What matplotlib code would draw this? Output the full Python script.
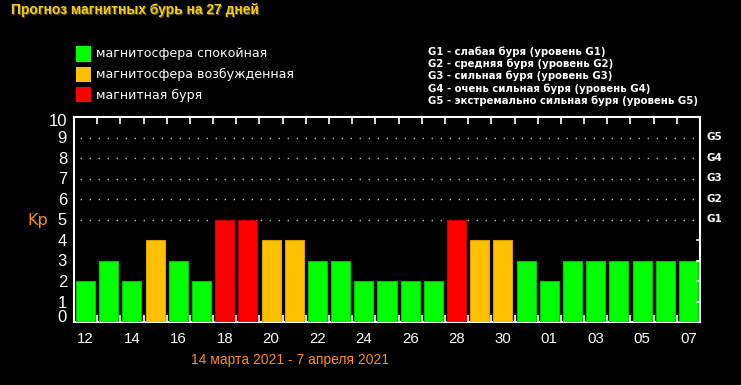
import matplotlib
matplotlib.use("Agg")
import matplotlib.pyplot as plt
from matplotlib.patches import Rectangle
from matplotlib.transforms import ScaledTranslation

# ---- data ----
days = ["12", "13", "14", "15", "16", "17", "18", "19", "20", "21", "22", "23", "24",
        "25", "26", "27", "28", "29", "30", "31", "01", "02", "03", "04", "05", "06", "07"]
kp = [2, 3, 2, 4, 3, 2, 5, 5, 4, 4, 3, 3, 2, 2, 2, 2, 5, 4, 4, 3, 2, 3, 3, 3, 3, 3, 3]
legend_labels = ["магнитосфера спокойная", "магнитосфера возбужденная", "магнитная буря"]
g_levels = ["G1", "G2", "G3", "G4", "G5"]
g_desc = ["G1 - слабая буря (уровень G1)",
          "G2 - средняя буря (уровень G2)",
          "G3 - сильная буря (уровень G3)",
          "G4 - очень сильная буря (уровень G4)",
          "G5 - экстремально сильная буря (уровень G5)"]
title = "Прогноз магнитных бурь на 27 дней"
period = "14 марта 2021 - 7 апреля 2021"

GREEN, ORANGE, RED = "#00FF00", "#FFC000", "#FF0000"
EDGE = {GREEN: "#00C800", ORANGE: "#D8A000", RED: "#C80000"}


def color_for(v):
    if v >= 5:
        return RED
    if v == 4:
        return ORANGE
    return GREEN


W, H = 741, 385
fig = plt.figure(figsize=(W / 100, H / 100), dpi=100, facecolor="black")
ax = fig.add_axes([74 / W, 1 - 322 / H, (700 - 74) / W, (322 - 117) / H])
ax.set_facecolor("black")

n = len(days)
x = list(range(n))
cols = [color_for(v) for v in kp]
ax.bar(x, kp, width=0.82, color=cols, edgecolor=[EDGE[c] for c in cols],
       linewidth=0.8, zorder=3)

ax.set_xlim(-0.5, n - 0.5)
ax.set_ylim(0, 10)

for s in ax.spines.values():
    s.set_color("white")
    s.set_linewidth(1.5)

# dotted grid at 5..9 (1 px dot every 9 px)
for yv in range(5, 10):
    ax.plot([-0.5, n - 0.5], [yv, yv], color="white",
            linestyle=(2, (0.72, 5.76)), linewidth=1.0, zorder=1)

# x ticks: marks at bar boundaries, labels at every other bar
ax.set_xticks([i + 0.5 for i in range(n - 1)])
ax.tick_params(axis="x", which="major", direction="in", length=5, width=1.2,
               colors="white", top=True, bottom=True, labelbottom=False)
ax.set_xticks(x[::2], minor=True)
ax.set_xticklabels(days[::2], minor=True)
ax.tick_params(axis="x", which="minor", length=0, pad=7, labelsize=10.8,
               labelcolor="white")
for lab in ax.get_xticklabels(minor=True):
    lab.set_family("Liberation Sans")

# y ticks
ax.set_yticks(range(0, 11))
ax.set_yticklabels([str(v) for v in range(0, 11)])
ax.tick_params(axis="y", which="major", direction="in", length=0, pad=5,
               labelsize=12, labelcolor="white", colors="white")
for lab in ax.get_yticklabels():
    lab.set_family("Liberation Sans")
ylabs = ax.get_yticklabels()
ylabs[0].set_transform(ylabs[0].get_transform() +
                       ScaledTranslation(0, 6 / 100, fig.dpi_scale_trans))
ylabs[-1].set_transform(ylabs[-1].get_transform() +
                        ScaledTranslation(0, -3 / 100, fig.dpi_scale_trans))

# right side inward ticks
for yv in range(1, 5):
    ax.plot([n - 0.5 - 0.12, n - 0.5], [yv, yv], color="white",
            linewidth=1.2, zorder=4, clip_on=False)

# G labels on right
for i, g in enumerate(g_levels):
    ax.text(n - 0.5 + 0.3, 5 + i, g, color="white", fontsize=7.5,
            fontweight="bold", va="center", ha="left")

# Kp label
fig.text(38 / W, 1 - 220 / H, "Kp", color="#FF8C1A", fontsize=11.5,
         ha="center", va="center")

# title with shadow
fig.text(12 / W, 1 - 11 / H, title, color="#6B5A00", fontsize=9.9,
         fontweight="bold", ha="left", va="center", family="Liberation Sans")
fig.text(11 / W, 1 - 10 / H, title, color="#F0CC20", fontsize=9.9,
         fontweight="bold", ha="left", va="center", family="Liberation Sans")

# left legend
for i, (lab, c) in enumerate(zip(legend_labels, [GREEN, ORANGE, RED])):
    yc = 54 + i * 20.5
    fig.patches.append(Rectangle((76 / W, 1 - (yc + 7.5) / H), 15 / W, 15 / H,
                                 transform=fig.transFigure, facecolor=c,
                                 edgecolor="none"))
    fig.text(96 / W, 1 - yc / H, lab, color="white", fontsize=9.1,
             ha="left", va="center")

# right legend
for i, t in enumerate(g_desc):
    fig.text(428 / W, 1 - (52 + i * 12.1) / H, t, color="white", fontsize=7.3,
             fontweight="bold", ha="left", va="center")

# period label
fig.text(290 / W, 1 - 360 / H, period, color="#FF8C1A", fontsize=10,
         ha="center", va="center", family="Liberation Sans")

fig.savefig("out.png", dpi=100, facecolor="black")
